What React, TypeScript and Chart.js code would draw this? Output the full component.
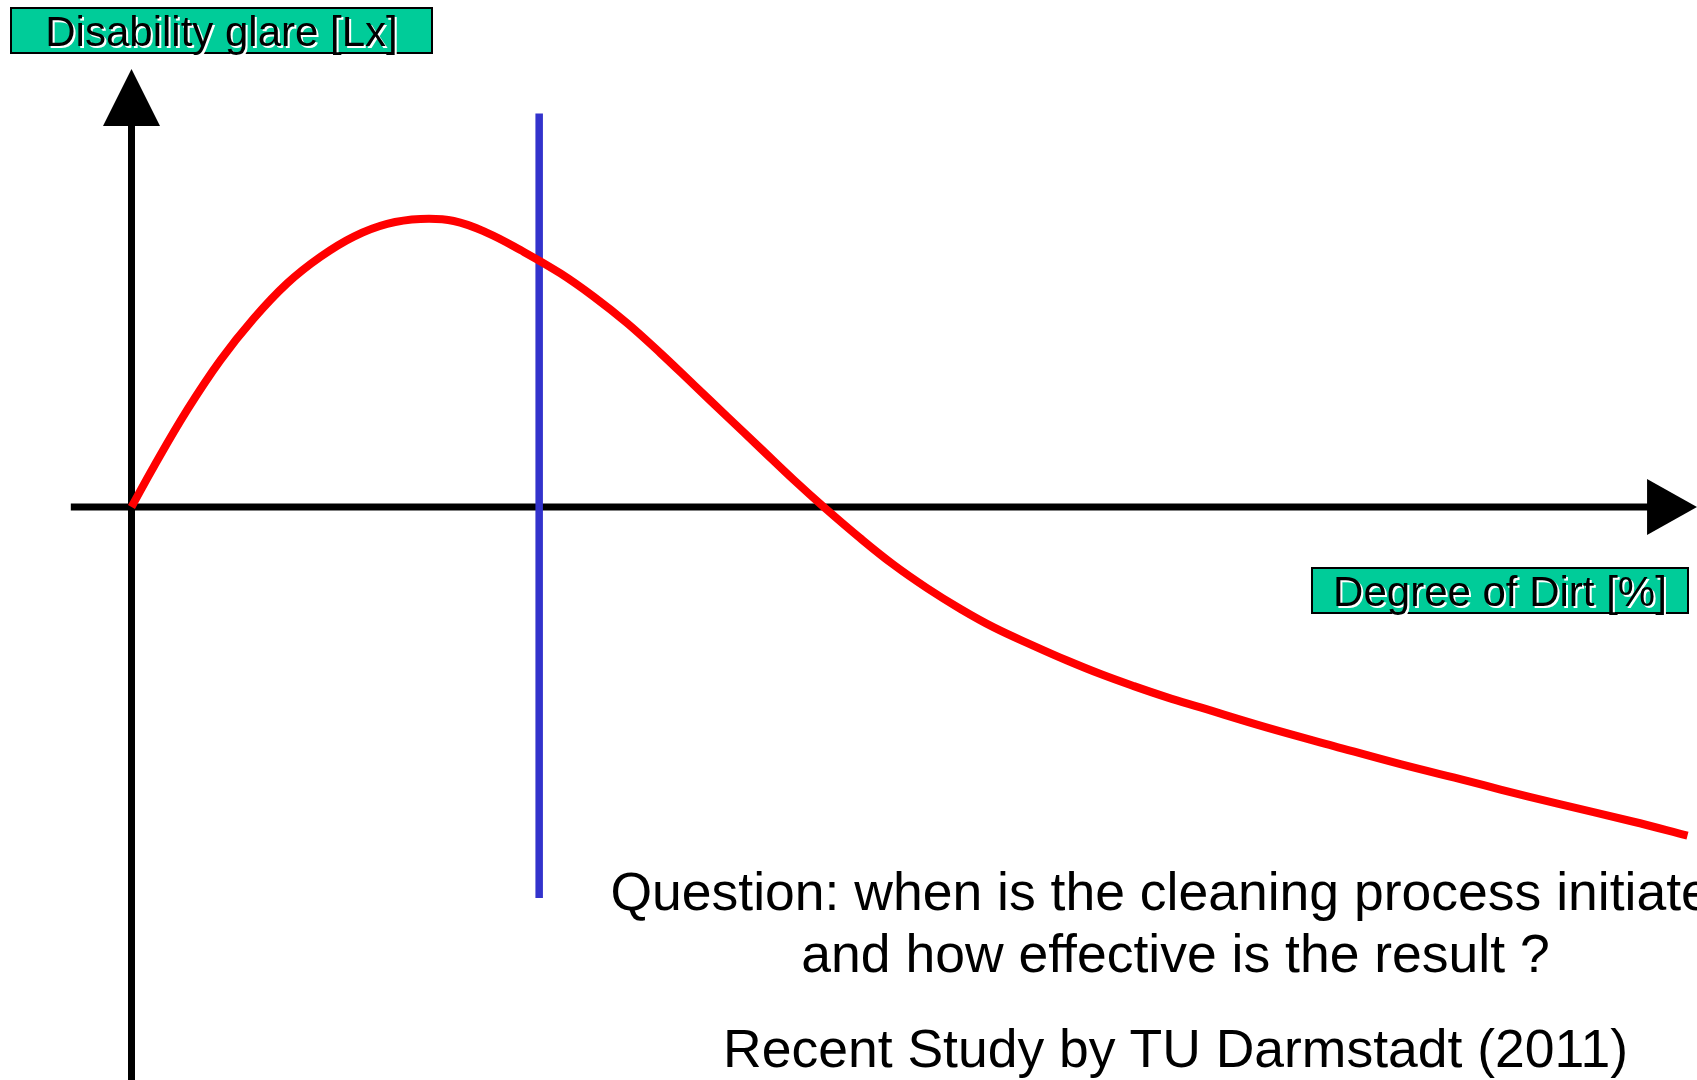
import React, { useEffect, useRef } from "react";
import { Chart, registerables } from "chart.js";

Chart.register(...registerables);

// ---- data ----
const dirtPercent = [
  0, 1.43, 3.58, 5.72, 7.86, 10.01, 12.15, 14.29, 16.43, 18.57, 20.71, 22.86, 25.0,
  27.57, 29.71, 31.86, 34.0, 36.14, 38.28, 40.42, 42.56, 44.49, 46.85, 48.99, 51.14,
  53.28, 55.42, 57.98, 60.13, 62.28, 64.42, 66.56, 68.7, 72.99, 77.27, 81.55, 85.84,
  87.98, 91.58, 96.47, 100,
];
const glareLux = [
  0, 14.0, 33.7, 51.0, 65.5, 77.7, 86.9, 93.9, 98.3, 100.0, 99.3, 95.2, 89.2,
  81.1, 73.0, 63.8, 53.4, 42.4, 31.4, 20.4, 9.4, 0, -10.9, -20.1, -28.2,
  -35.4, -41.8, -48.2, -53.3, -58.0, -62.2, -66.1, -69.6, -76.6, -83.0, -89.3, -95.1,
  -98.1, -102.9, -109.2, -114.1,
];
const cleaningDirt = [26.2, 26.2];
const cleaningGlare = [136.6, -135.8];

// axis extents in data units
const xAxisStart = -3.9;
const xArrowBase = 97.4;
const yArrowBase = 132.3;

const yAxisLabel = "Disability glare [Lx]";
const xAxisLabel = "Degree of Dirt [%]";
const questionLines = [
  "Question: when is the cleaning process initiated",
  "and how effective is the result ?",
];
const sourceNote = "Recent Study by TU Darmstadt (2011)";

const W = 1697;
const H = 1080;

const arrowAxesPlugin = {
  id: "arrowAxes",
  beforeDatasetsDraw(chart: any) {
    const { ctx } = chart;
    const xs = chart.scales.x;
    const ys = chart.scales.y;
    const x0 = xs.getPixelForValue(0);
    const y0 = ys.getPixelForValue(0);
    ctx.save();
    ctx.strokeStyle = "#000";
    ctx.fillStyle = "#000";
    ctx.lineWidth = 7;
    ctx.lineCap = "butt";
    // horizontal axis
    const xb = xs.getPixelForValue(xArrowBase);
    ctx.beginPath();
    ctx.moveTo(xs.getPixelForValue(xAxisStart), y0);
    ctx.lineTo(xb + 2, y0);
    ctx.stroke();
    ctx.beginPath();
    ctx.moveTo(xb, y0 - 28);
    ctx.lineTo(xs.getPixelForValue(xs.max), y0);
    ctx.lineTo(xb, y0 + 28);
    ctx.closePath();
    ctx.fill();
    // vertical axis
    const yb = ys.getPixelForValue(yArrowBase);
    ctx.beginPath();
    ctx.moveTo(x0, ys.getPixelForValue(ys.min));
    ctx.lineTo(x0, yb - 2);
    ctx.stroke();
    ctx.beginPath();
    ctx.moveTo(x0 - 28.5, yb);
    ctx.lineTo(x0, yb - 57);
    ctx.lineTo(x0 + 28.5, yb);
    ctx.closePath();
    ctx.fill();
    ctx.restore();
  },
};

const labelFont = "'Liberation Sans', Arial, sans-serif";

const boxStyle = (left: number, top: number, width: number): React.CSSProperties => ({
  position: "absolute",
  left,
  top,
  width,
  height: 47,
  boxSizing: "border-box",
  background: "#00cc99",
  border: "2px solid #000",
  paddingTop: 1,
  fontFamily: labelFont,
  fontSize: 42,
  lineHeight: "43px",
  textAlign: "center",
  color: "#000",
  whiteSpace: "nowrap",
  textShadow: "2px 2px 0 #fff",
});

const lineStyle = (top: number): React.CSSProperties => ({
  position: "absolute",
  left: 1175.5,
  top,
  transform: "translateX(-50%)",
  fontFamily: labelFont,
  fontSize: 53.5,
  lineHeight: "53px",
  whiteSpace: "nowrap",
  color: "#000",
});

export default function App() {
  const canvasRef = useRef<HTMLCanvasElement | null>(null);

  useEffect(() => {
    if (!canvasRef.current) return;
    const chart = new Chart(canvasRef.current, {
      type: "line",
      data: {
        datasets: [
          {
            label: "Disability glare",
            data: dirtPercent.map((d, i) => ({ x: d, y: glareLux[i] })),
            borderColor: "#ff0000",
            borderWidth: 8,
            pointRadius: 0,
            tension: 0.4,
            cubicInterpolationMode: "default",
            fill: false,
          },
          {
            label: "Cleaning",
            data: cleaningDirt.map((d, i) => ({ x: d, y: cleaningGlare[i] })),
            borderColor: "#3333cc",
            borderWidth: 7.5,
            pointRadius: 0,
            fill: false,
          },
        ],
      },
      options: {
        animation: false,
        responsive: false,
        devicePixelRatio: 1,
        layout: { padding: 0 },
        plugins: {
          legend: { display: false },
          tooltip: { enabled: false },
          title: { display: false },
        },
        scales: {
          x: { type: "linear", min: -131.5 / 15.56, max: (W - 131.5) / 15.56, display: false },
          y: { type: "linear", min: (507 - H) / 2.88, max: 507 / 2.88, display: false },
        },
      },
      plugins: [arrowAxesPlugin],
    } as any);
    return () => chart.destroy();
  }, []);

  return (
    <div
      style={{
        position: "fixed",
        left: 0,
        top: 0,
        width: W,
        height: H,
        overflow: "hidden",
        background: "#fff",
      }}
    >
      <canvas ref={canvasRef} width={W} height={H} style={{ position: "absolute", left: 0, top: 0 }} />
      <div style={boxStyle(10, 7, 423)}>{yAxisLabel}</div>
      <div style={boxStyle(1311, 567, 378)}>{xAxisLabel}</div>
      <div style={lineStyle(865)}>{questionLines[0]}</div>
      <div style={lineStyle(927)}>{questionLines[1]}</div>
      <div style={lineStyle(1022)}>{sourceNote}</div>
    </div>
  );
}
